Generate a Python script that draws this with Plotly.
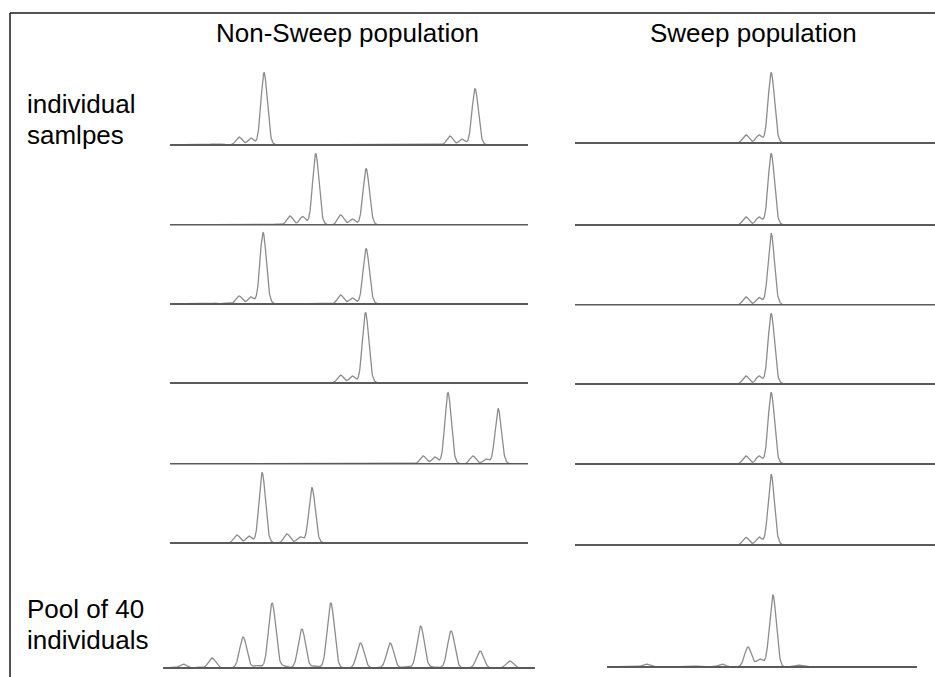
import numpy as np
import plotly.graph_objects as go

# ---------------- data (allele size in bp, peak height in RFU) ----------------
COLUMN_TITLES = ["Non-Sweep population", "Sweep population"]
ROW_LABEL_INDIVIDUAL = ["individual", "samlpes"]
ROW_LABEL_POOL = ["Pool of 40", "individuals"]

# Non-sweep individual samples
NS1_POS = [173.8, 176.7, 182.2, 186.0, 190.2, 192.0, 249.9, 253.8, 258.0, 259.8]
NS1_HT = [100, 100, 800, 700, 7200, 200, 900, 600, 5600, 150]
NS2_POS = [194.5, 198.5, 202.6, 206.8, 208.6, 214.8, 218.6, 223.0, 224.8, 230.0]
NS2_HT = [100, 900, 850, 7100, 200, 1000, 600, 5600, 150, 50]
NS3_POS = [174.5, 178.3, 182.2, 186.0, 189.9, 191.7, 214.8, 218.6, 223.0, 224.8, 262.2]
NS3_HT = [80, 80, 800, 700, 7100, 200, 900, 600, 5500, 150, 50]
NS4_POS = [210.6, 214.8, 218.6, 222.8, 224.6]
NS4_HT = [60, 800, 700, 7000, 200]
NS5_POS = [241.3, 245.1, 249.3, 251.1, 257.3, 261.5, 265.4, 267.2]
NS5_HT = [800, 700, 7100, 200, 800, 500, 5500, 150]
NS6_POS = [173.5, 181.5, 185.4, 189.6, 191.4, 197.6, 201.8, 205.6, 207.4, 262.1]
NS6_HT = [60, 800, 700, 7000, 200, 900, 600, 5500, 150, 50]

# Sweep individual samples
SW1_POS = [206.6, 210.4, 214.9, 219.1, 223.0, 224.8, 247.4]
SW1_HT = [50, 60, 800, 800, 7000, 200, 40]
SW2_POS = [206.6, 210.4, 214.9, 219.1, 223.0, 224.8, 247.4]
SW2_HT = [50, 60, 800, 800, 7100, 200, 40]
SW3_POS = [206.6, 210.4, 214.9, 219.1, 223.0, 224.8, 247.4]
SW3_HT = [50, 60, 800, 750, 7100, 200, 40]
SW4_POS = [206.6, 210.4, 214.9, 219.1, 223.0, 224.8, 247.4]
SW4_HT = [50, 60, 800, 800, 7000, 200, 40]
SW5_POS = [206.6, 210.4, 214.9, 219.1, 223.0, 224.8, 247.4]
SW5_HT = [50, 60, 800, 800, 7100, 200, 40]
SW6_POS = [206.6, 210.4, 214.9, 219.1, 223.0, 224.8, 247.4]
SW6_HT = [50, 60, 750, 800, 7000, 200, 40]

# Pools of 40 individuals
POOL_NS_POS = [162.0, 163.9, 165.9, 170.1, 172.0, 174.0, 175.5, 178.0, 179.8, 181.9,
               185.9, 189.9, 192.0, 194.0, 195.6, 198.1, 202.0, 206.0]
POOL_NS_HT = [400, 50, 1000, 3100, 250, 6500, 200, 3900, 200, 6500,
              2500, 2500, 100, 4200, 100, 3700, 1700, 700]
POOL_SW_POS = [182.2, 198.6, 206.6, 215.0, 218.8, 223.0, 231.1]
POOL_SW_HT = [300, 100, 300, 2000, 800, 7200, 200]

# ---------------- layout / style ----------------
W, H = 935, 677
CURVE_COLOR = "#8c8c8c"
BASE_COLOR = "#5a5a5a"
FONT = "Liberation Sans, Arial, sans-serif"
PX_PER_RFU = 0.01  # 1 px = 100 RFU

ind_ns = [(NS1_POS, NS1_HT), (NS2_POS, NS2_HT), (NS3_POS, NS3_HT),
          (NS4_POS, NS4_HT), (NS5_POS, NS5_HT), (NS6_POS, NS6_HT)]
ind_sw = [(SW1_POS, SW1_HT), (SW2_POS, SW2_HT), (SW3_POS, SW3_HT),
          (SW4_POS, SW4_HT), (SW5_POS, SW5_HT), (SW6_POS, SW6_HT)]
ns_baselines = [145, 225, 304, 383, 464, 543]
sw_baselines = [143, 225, 305, 384, 464, 545]

panels = []
for (pos, ht), b in zip(ind_ns, ns_baselines):
    panels.append(dict(pos=pos, ht=ht, sigma=1.0, xr=(160, 275.0), xpx=(170, 528), base=b))
for (pos, ht), b in zip(ind_sw, sw_baselines):
    panels.append(dict(pos=pos, ht=ht, sigma=1.0, xr=(160, 275.6), xpx=(575, 935), base=b))
panels.append(dict(pos=POOL_NS_POS, ht=POOL_NS_HT, sigma=0.48, xr=(159.3, 209.4), xpx=(163, 535), base=668))
panels.append(dict(pos=POOL_SW_POS, ht=POOL_SW_HT, sigma=1.1, xr=(169.7, 269.3), xpx=(607, 917), base=667))

fig = go.Figure()
layout = {}
PANEL_H = 80  # px
PAD = 1.5     # px below baseline kept inside plot area

for i, p in enumerate(panels, start=1):
    xs = np.linspace(p["xr"][0], p["xr"][1], 1600)
    ys = np.zeros_like(xs)
    for c, h in zip(p["pos"], p["ht"]):
        ys += h * np.exp(-0.5 * ((xs - c) / p["sigma"]) ** 2)
    sfx = "" if i == 1 else str(i)
    fig.add_trace(go.Scatter(x=xs, y=ys, mode="lines", xaxis="x" + sfx, yaxis="y" + sfx,
                             line=dict(color=CURVE_COLOR, width=1.3), hoverinfo="skip",
                             showlegend=False))
    fig.add_trace(go.Scatter(x=[p["xr"][0], p["xr"][1]], y=[0, 0], mode="lines",
                             xaxis="x" + sfx, yaxis="y" + sfx,
                             line=dict(color=BASE_COLOR, width=1.8), hoverinfo="skip",
                             showlegend=False))
    y0 = 1 - (p["base"] + PAD) / H
    y1 = 1 - (p["base"] + PAD - PANEL_H) / H
    layout["xaxis" + sfx] = dict(domain=[p["xpx"][0] / W, p["xpx"][1] / W], range=list(p["xr"]),
                                 visible=False, anchor="y" + sfx, fixedrange=True)
    layout["yaxis" + sfx] = dict(domain=[y0, y1], range=[-PAD / PX_PER_RFU, (PANEL_H - PAD) / PX_PER_RFU],
                                 visible=False, anchor="x" + sfx, fixedrange=True)

fig.update_layout(**layout)

ann = []
def add_text(txt, xpx, ypx, xanchor):
    ann.append(dict(text=txt, x=xpx / W, y=1 - ypx / H, xref="paper", yref="paper",
                    xanchor=xanchor, yanchor="middle", showarrow=False,
                    font=dict(family=FONT, size=26, color="#000000")))

add_text(COLUMN_TITLES[0], 347.5, 33, "center")
add_text(COLUMN_TITLES[1], 753.5, 33, "center")
add_text(ROW_LABEL_INDIVIDUAL[0], 25, 104, "left")
add_text(ROW_LABEL_INDIVIDUAL[1], 25, 135, "left")
add_text(ROW_LABEL_POOL[0], 25, 609, "left")
add_text(ROW_LABEL_POOL[1], 25, 640, "left")

shapes = [
    dict(type="line", xref="paper", yref="paper", x0=10 / W, x1=1, y0=1 - 13 / H, y1=1 - 13 / H,
         line=dict(color="#1a1a1a", width=1.5)),
    dict(type="line", xref="paper", yref="paper", x0=10 / W, x1=10 / W, y0=1 - 13 / H, y1=0,
         line=dict(color="#1a1a1a", width=1.5)),
]

fig.update_layout(width=W, height=H, margin=dict(l=0, r=0, t=0, b=0),
                  paper_bgcolor="white", plot_bgcolor="white",
                  annotations=ann, shapes=shapes, showlegend=False)

fig.write_html("out.html", config={"displayModeBar": False})
